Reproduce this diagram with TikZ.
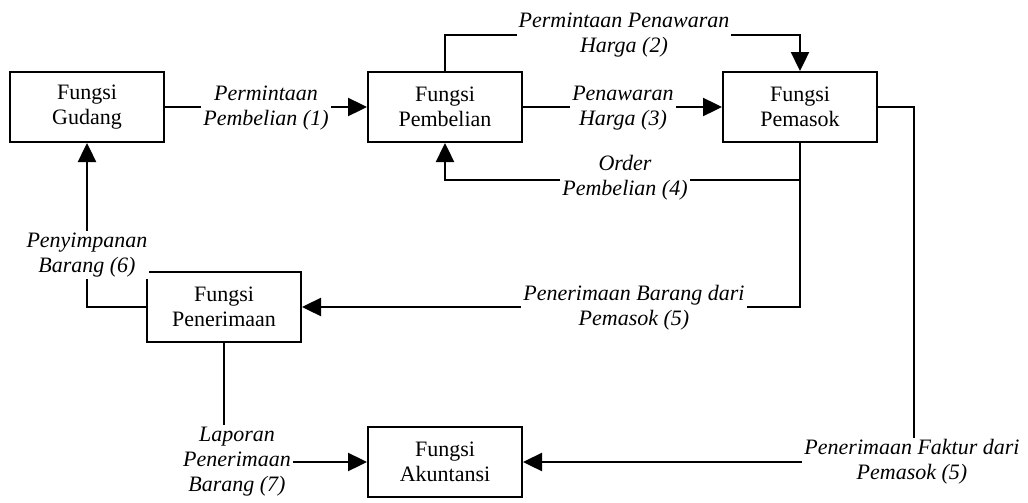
\documentclass[tikz,border=0pt]{standalone}
\usepackage{fontspec}
\setmainfont{Liberation Serif}
\usetikzlibrary{arrows.meta}
\begin{document}
\begin{tikzpicture}[x=0.5pt,y=-0.5pt,
  box/.style={draw, line width=1pt, minimum width=77pt, minimum height=35pt, align=center, inner sep=0pt, font=\fontsize{11}{12.5}\selectfont},
  lbl/.style={fill=white, inner sep=1pt, align=center, font=\fontsize{11}{12.5}\selectfont\itshape},
  conn/.style={line width=1.2pt},
  arr/.style={conn, -{Triangle[length=9.5pt,width=9pt]}}]
\useasboundingbox (0,0) rectangle (1028,503);
\node[box] (gud) at (87,107) {Fungsi\\Gudang};
\node[box] (pemb) at (445,107) {Fungsi\\Pembelian};
\node[box] (pemas) at (800,107) {Fungsi\\Pemasok};
\node[box] (pener) at (224,307) {Fungsi\\Penerimaan};
\node[box] (akun) at (445,462) {Fungsi\\Akuntansi};
% connectors
\draw[arr] (gud.east) -- (pemb.west);
\draw[arr] (pemb.north) -- ++(0,-36) -| (pemas.north);
\draw[arr] (pemb.east) -- (pemas.west);
\draw[arr] (pemas.south) -- ++(0,37) -| (pemb.south);
\draw[arr] (pemas.south) |- (pener.east);
\draw[arr] (pener.west) -| (gud.south);
\draw[arr] (pener.south) |- (akun.west);
\draw[arr] (pemas.east) -- ++(36,0) |- (akun.east);
% labels
\node[lbl] (l1) at (266,108) {Permintaan\\Pembelian (1)};
\node[lbl] (l2) at (624,35) {Permintaan Penawaran\\Harga (2)};
\node[lbl] (l3) at (623,108) {Penawaran\\Harga (3)};
\node[lbl] (l4) at (625,178) {Order\\Pembelian (4)};
\node[lbl] (l5) at (634,308) {Penerimaan Barang dari\\Pemasok (5)};
\node[lbl] (l6) at (87,255) {Penyimpanan\\Barang (6)};
\node[lbl] (l7) at (237,462) {Laporan\\Penerimaan\\Barang (7)};
\node[lbl] (l8) at (912,462) {Penerimaan Faktur dari\\Pemasok (5)};
\end{tikzpicture}
\end{document}
